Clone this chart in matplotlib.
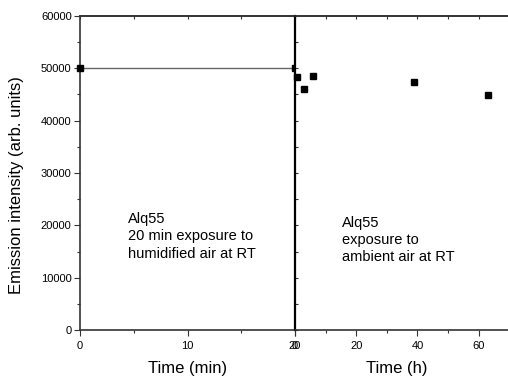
import matplotlib
matplotlib.use("Agg")
import matplotlib.pyplot as plt
from matplotlib.ticker import MultipleLocator, NullFormatter

plt.rcParams['font.family'] = ['Liberation Sans', 'DejaVu Sans']

# ---- data ----
t_min = [0, 20]
I_min = [50000, 50000]

t_h = [0.5, 2.9, 6.0, 39.0, 63.0]
I_h = [48300, 46050, 48500, 47350, 44900]

# ---- figure ----
fig = plt.figure(figsize=(5.08, 3.76), dpi=100)
x0, x1, x2 = 80 / 508, 295 / 508, 1.0
y0, y1 = 1 - 330 / 376, 1 - 16 / 376
ax1 = fig.add_axes([x0, y0, x1 - x0, y1 - y0])
ax2 = fig.add_axes([x1, y0, x2 - x1, y1 - y0])

spine_col = "#333333"


def top_ticks(ax, major, minor):
    # small inward ticks on the top spine, no labels
    sec = ax.secondary_xaxis("top")
    sec.xaxis.set_major_locator(MultipleLocator(major))
    sec.xaxis.set_minor_locator(MultipleLocator(minor))
    sec.xaxis.set_major_formatter(NullFormatter())
    sec.tick_params(which="both", direction="in", length=2, width=0.8,
                    color=spine_col)
    sec.spines["top"].set_color(spine_col)
    sec.spines["top"].set_linewidth(1.2)


# left panel: minutes
ax1.plot(t_min, I_min, "-", color="#666666", lw=1.0, zorder=2)
ax1.plot(t_min, I_min, "s", color="black", ms=5, clip_on=False, zorder=3)
ax1.set_xlim(0, 20)
ax1.set_ylim(0, 60000)
ax1.xaxis.set_major_locator(MultipleLocator(10))
ax1.xaxis.set_minor_locator(MultipleLocator(5))
ax1.yaxis.set_major_locator(MultipleLocator(10000))
ax1.yaxis.set_minor_locator(MultipleLocator(5000))
ax1.tick_params(axis="both", which="major", direction="out", length=4,
                width=0.8, labelsize=8, color=spine_col, pad=2)
ax1.tick_params(axis="both", which="minor", direction="out", length=2,
                width=0.8, color=spine_col)
ax1.tick_params(axis="x", which="major", pad=4)
ax1.spines["right"].set_visible(False)
for s in ["left", "bottom", "top"]:
    ax1.spines[s].set_color(spine_col)
    ax1.spines[s].set_linewidth(1.2)
top_ticks(ax1, 5, 5)
ax1.set_xlabel("Time (min)", fontsize=12)
ax1.set_ylabel("Emission intensity (arb. units)", fontsize=12)
ax1.yaxis.set_label_coords(-0.26, 0.46)
ax1.xaxis.set_label_coords(0.5, -0.1)

ax1.text(4.5, 17900, "Alq55\n20 min exposure to\nhumidified air at RT",
         fontsize=10.5, va="center", ha="left", linespacing=1.3)

# right panel: hours
ax2.plot(t_h, I_h, "s", color="black", ms=5, clip_on=False, zorder=3)
ax2.set_xlim(0, 69.6)
ax2.set_ylim(0, 60000)
ax2.xaxis.set_major_locator(MultipleLocator(20))
ax2.xaxis.set_minor_locator(MultipleLocator(10))
ax2.yaxis.set_major_locator(MultipleLocator(10000))
ax2.yaxis.set_minor_locator(MultipleLocator(5000))
ax2.tick_params(axis="y", which="both", direction="in", length=2,
                width=0.8, labelleft=False, color=spine_col)
ax2.tick_params(axis="x", which="major", direction="out", length=4,
                width=0.8, labelsize=8, color=spine_col, pad=4)
ax2.tick_params(axis="x", which="minor", direction="out", length=2,
                width=0.8, color=spine_col)
ax2.spines["right"].set_visible(False)
ax2.spines["left"].set_color("black")
ax2.spines["left"].set_linewidth(1.6)
for s in ["bottom", "top"]:
    ax2.spines[s].set_color(spine_col)
    ax2.spines[s].set_linewidth(1.2)
top_ticks(ax2, 10, 10)
ax2.set_xlabel("Time (h)", fontsize=12)
ax2.xaxis.set_label_coords(0.48, -0.1)

ax2.text(15.4, 17200, "Alq55\nexposure to\nambient air at RT",
         fontsize=10.5, va="center", ha="left", linespacing=1.3)

fig.savefig("out.png", dpi=100)
